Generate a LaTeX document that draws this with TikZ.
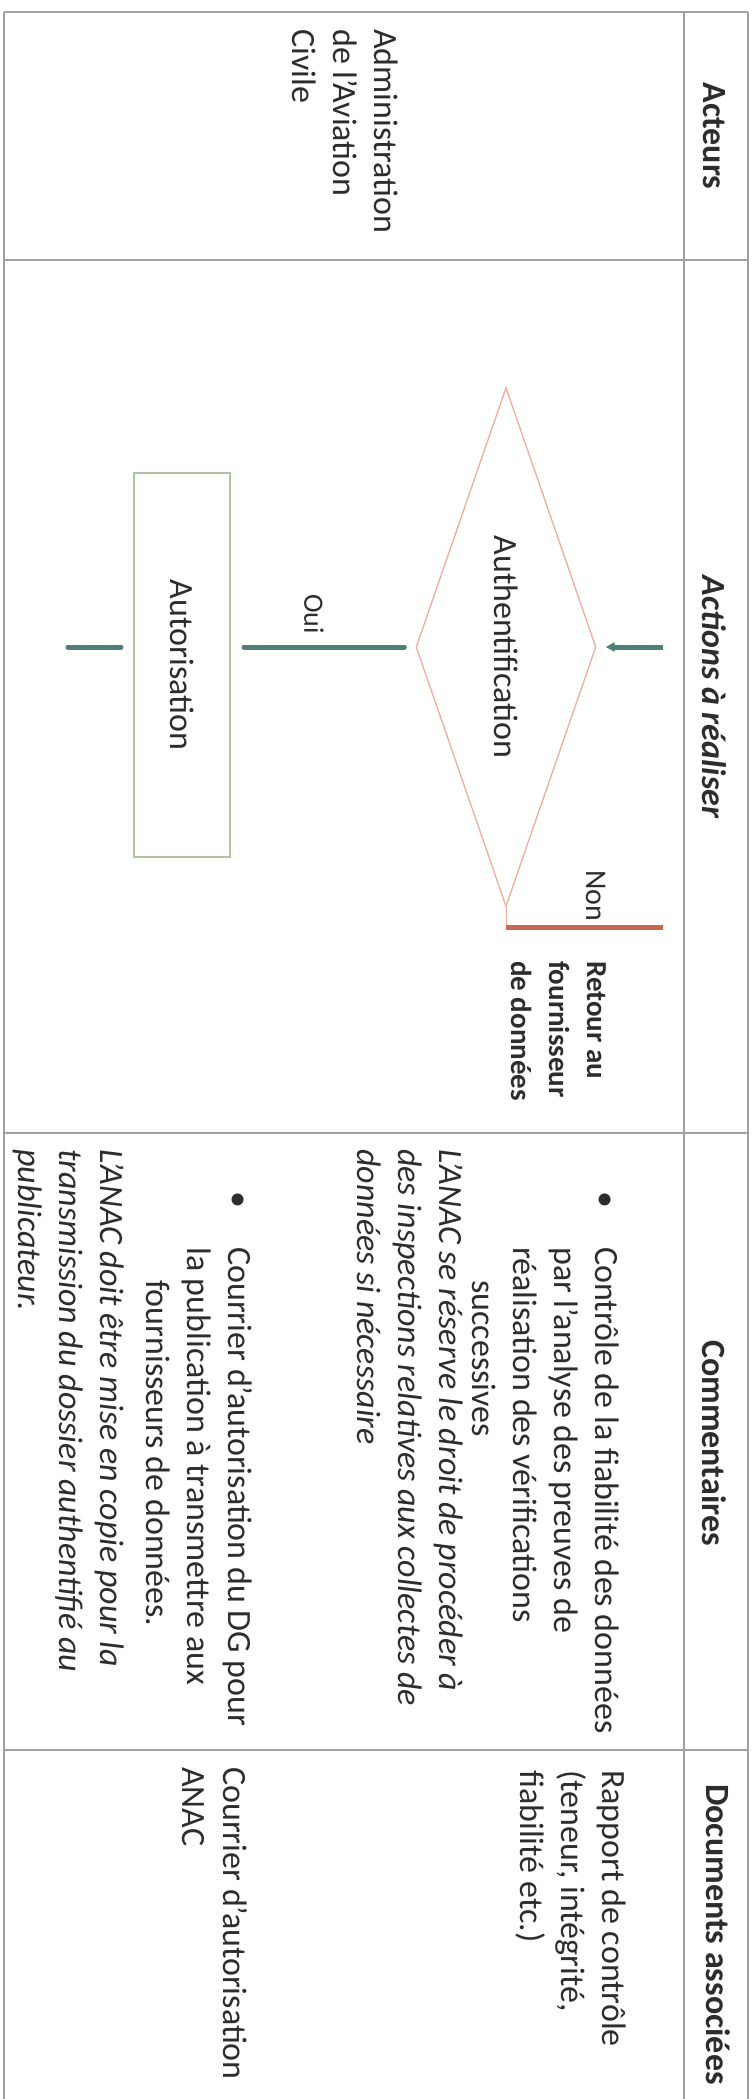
\documentclass[tikz,border=0pt]{standalone}
\usepackage{fontspec}
\setmainfont{Carlito}
\usetikzlibrary{shapes.geometric,arrows.meta}
\definecolor{gridc}{RGB}{160,160,160}
\definecolor{txt}{RGB}{45,45,45}
\definecolor{tealc}{RGB}{78,128,118}
\definecolor{redc}{RGB}{200,105,85}
\definecolor{diac}{RGB}{240,172,155}
\definecolor{boxc}{RGB}{172,198,155}
\begin{document}
\begin{tikzpicture}[x=1pt,y=-1pt,
  grid/.style={draw=gridc, line width=1.8pt},
  txtnode/.style={rotate=-90, inner sep=0pt, text=txt, align=left, font=\fontsize{34}{41}\selectfont},
  hdr/.style={rotate=-90, inner sep=0pt, text=txt, font=\fontsize{34}{41}\selectfont\bfseries},
  conn/.style={draw=tealc, line width=5pt, line cap=round},
  nonline/.style={draw=redc, line width=5pt},
  itext/.style={font=\fontsize{34}{41}\selectfont\itshape}]
\useasboundingbox[fill=white] (0,0) rectangle (755,2099);
% table
\draw[grid] (4,12) -- (748,12);
\draw[grid] (748,12) -- (748,2099);
\draw[grid] (684,12) -- (684,2099);
\draw[grid] (4,12) -- (4,2099);
\foreach \yy in {260,1133,1750} \draw[grid] (4,\yy) -- (748,\yy);
% headers
\node[hdr] (hA) at (714,136) {Acteurs};
\node[hdr, font=\fontsize{34}{41}\selectfont\bfseries\itshape] (hB) at (714,697) {Actions à réaliser};
\node[hdr] (hC) at (714,1443) {Commentaires};
\node[hdr, anchor=base west] (hD) at (706,1784) {Documents associées};
% actor (anchor = baseline of last line)
\node[txtnode, anchor=base west] (act) at (292,29) {Administration\\de l’Aviation\\Civile};
% flow
\node[diamond, rotate=-90, draw=diac, line width=1.3pt, aspect=2.9, minimum width=519pt, minimum height=180pt, inner sep=0pt, text=txt, font=\fontsize{34}{41}\selectfont] (dia) at (506,647) {Authentification};
\node[rotate=-90, draw=boxc, line width=2pt, minimum width=384pt, minimum height=96pt, inner sep=0pt, text=txt, font=\fontsize{34}{41}\selectfont] (aut) at (182,665) {Autorisation};
\coordinate (inS) at (663,647);
\coordinate (outW) at (68,647);
\coordinate (nonE) at (663,927);
\draw[conn, line cap=butt, shorten >=9pt, -{Triangle[length=9pt,width=9pt]}] (inS) -- (dia.north);
\draw[conn, shorten <=11pt, shorten >=13pt] (dia.south) -- (dia.south -| aut.north);
\draw[conn, shorten <=12pt] (dia.south -| aut.south) -- (outW);
\draw[draw=diac, line width=1pt] (dia.east) -- (dia.east |- nonE);
\draw[nonline] (dia.east |- nonE) -- (nonE);
\node[rotate=-90, inner sep=0pt, text=txt, font=\fontsize{28}{34}\selectfont] (oui) at (314,614) {Oui};
\node[rotate=-90, inner sep=0pt, text=txt, font=\fontsize{30}{36}\selectfont] (non) at (596,896) {Non};
\node[txtnode, anchor=base west, font=\fontsize{29}{38}\selectfont\bfseries] (ret) at (511,961) {Retour au\\fournisseur\\de données};
% comments
\node[txtnode, anchor=base] (b1) at (595,1200) {•};
\node[txtnode, anchor=base west] (c1) at (472,1247) {Contrôle de la fiabilité des données\\par l’analyse des preuves de\\réalisation des vérifications\\\hspace*{33pt}successives};
\node[txtnode, itext, anchor=base west] (c2) at (357,1149) {L’ANAC se réserve le droit de procéder à\\des inspections relatives aux collectes de\\données si nécessaire};
\node[txtnode, anchor=base] (b2) at (228,1200) {•};
\node[txtnode, anchor=base west] (c3) at (146,1247) {Courrier d’autorisation du DG pour\\la publication à transmettre aux\\\hspace*{33pt}fournisseurs de données.};
\node[txtnode, itext, anchor=base west] (c4) at (18,1149) {L’ANAC doit être mise en copie pour la\\transmission du dossier authentifié au\\publicateur.};
% documents
\node[txtnode, anchor=base west] (d1) at (520,1770) {Rapport de contrôle\\(teneur, intégrité,\\fiabilité etc.)};
\node[txtnode, anchor=base west] (d2) at (182,1767) {Courrier d’autorisation\\ANAC};
\end{tikzpicture}
\end{document}
